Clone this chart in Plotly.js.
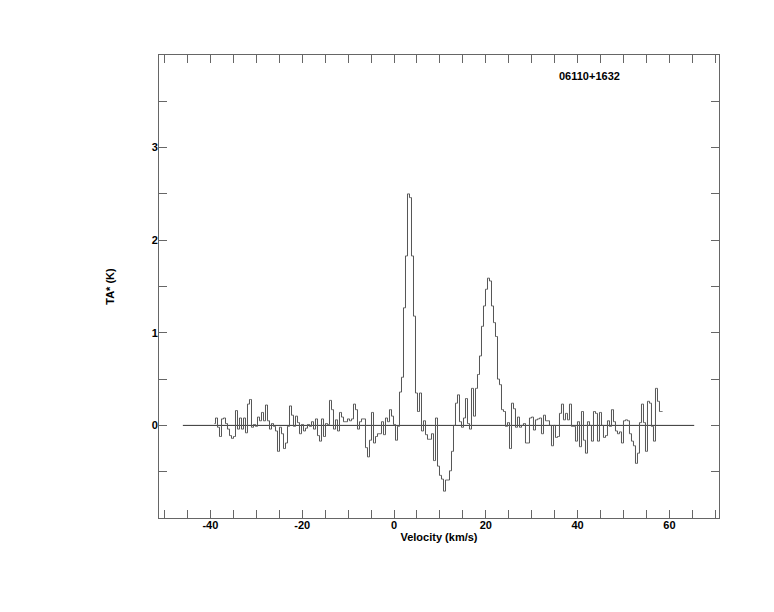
<!DOCTYPE html>
<html>
<head>
<meta charset="utf-8">
<script src="https://cdn.plot.ly/plotly-3.0.1.min.js"></script>
<style>html,body{margin:0;padding:0;background:#fff;}#chart{width:774px;height:612px;}</style>
</head>
<body>
<div id="chart"></div>
<script>
// Spectrum: antenna temperature TA* (K) per velocity channel
const velocityStart = -39.11;    // km/s, centre of first channel
const channelWidth = 0.4357;     // km/s
const taValues = [
 0.02, 0.08,-0.02,-0.12, 0.07, 0.08, 0.02,-0.04,-0.11,-0.14,
-0.12, 0.16,-0.04, 0.08,-0.04, 0.08,-0.08, 0.23, 0.28,-0.02,
 0.01,-0.01, 0.09, 0.05, 0.14, 0.05, 0.22, 0.05,-0.04, 0.02,
-0.01,-0.06,-0.28,-0.02,-0.09,-0.25,-0.19,-0.01, 0.21, 0.11,
-0.01, 0.10, 0.03,-0.09, 0.01,-0.06,-0.03, 0.01,-0.01, 0.04,
-0.04, 0.07,-0.11,-0.17, 0.07,-0.12, 0.02, 0.01, 0.27, 0.17,
-0.04, 0.06,-0.06, 0.14, 0.09, 0.04, 0.04, 0.07, 0.05, 0.07,
 0.23, 0.17,-0.04, 0.04, 0.07, 0.07,-0.24,-0.34,-0.16, 0.14,
-0.19,-0.12,-0.09,-0.09, 0.04,-0.10, 0.08, 0.04, 0.17, 0.10,
 0.01,-0.16,-0.01, 0.36, 0.52, 1.27, 1.83, 2.50, 2.46, 1.83,
 1.18, 0.35, 0.15, 0.35,-0.06, 0.05,-0.10,-0.15,-0.15,-0.09,
-0.38, 0.08,-0.44,-0.54,-0.58,-0.71,-0.59,-0.59,-0.49,-0.28,
 0.00, 0.24, 0.33, 0.04,-0.02, 0.08, 0.29, 0.02,-0.04, 0.40,
 0.10, 0.40, 0.55, 0.75, 1.07, 1.29, 1.47, 1.59, 1.56, 1.29,
 1.11, 0.96, 0.50, 0.44, 0.17, 0.15,-0.01, 0.03,-0.25, 0.24,
 0.18,-0.02, 0.09,-0.02, 0.00, 0.02,-0.19,-0.19, 0.08, 0.09,
-0.05, 0.06, 0.07, 0.08,-0.09, 0.11, 0.05, 0.05, 0.00,-0.22,
 0.00,-0.13,-0.12, 0.13, 0.23, 0.06, 0.13, 0.06, 0.23,-0.01,
-0.01,-0.17, 0.04,-0.23, 0.15,-0.16,-0.30, 0.04, 0.00,-0.17,
 0.15, 0.13,-0.17, 0.14, 0.00,-0.13,-0.11, 0.05,-0.01, 0.17,
 0.04,-0.06,-0.09,-0.07,-0.19, 0.05, 0.06, 0.05,-0.09,-0.17,
-0.22,-0.41,-0.30, 0.03, 0.23, 0.03,-0.28, 0.26, 0.24,-0.01,
-0.17, 0.40, 0.26, 0.15, 0.15
];
const baselineVelocity = [-46, 65.4];
const baselineLevel = [0, 0];
const xTickValues = [-40, -20, 0, 20, 40, 60];
const yTickValues = [0, 1, 2, 3];
const sourceName = "06110+1632";

const fontFamily = "Liberation Sans, Arial, Helvetica, sans-serif";
const tickFont = {family: fontFamily, size: 11, color: "#000", weight: "bold"};

const traces = [
  {
    type: "scatter", mode: "lines",
    x: baselineVelocity, y: baselineLevel,
    line: {color: "#333", width: 1},
    hoverinfo: "skip", showlegend: false
  },
  {
    type: "scatter", mode: "lines",
    x0: velocityStart, dx: channelWidth, y: taValues,
    line: {color: "#555", width: 1, shape: "hvh"},
    showlegend: false
  }
];

const axisCommon = {
  showgrid: false, zeroline: false,
  showline: true, linecolor: "#666", linewidth: 1, mirror: "allticks",
  ticks: "inside", ticklen: 8, tickcolor: "#666", tickwidth: 1,
  tickfont: tickFont
};

const layout = {
  width: 774, height: 612,
  margin: {l: 159, r: 55, t: 55, b: 94},
  paper_bgcolor: "#fff", plot_bgcolor: "#fff",
  showlegend: false,
  xaxis: Object.assign({}, axisCommon, {
    range: [-51.2, 70.8],
    tickmode: "array", tickvals: xTickValues, ticktext: xTickValues.map(String),
    minor: {dtick: 5, tick0: 0, ticks: "inside", ticklen: 8, tickcolor: "#666", tickwidth: 1},
    ticklabelstandoff: -3,
    title: {text: "Velocity (km/s)", font: tickFont, standoff: 3}
  }),
  yaxis: Object.assign({}, axisCommon, {
    range: [-1, 4],
    tickmode: "array", tickvals: yTickValues, ticktext: yTickValues.map(String),
    minor: {dtick: 0.5, tick0: 0, ticks: "inside", ticklen: 8, tickcolor: "#666", tickwidth: 1},
    ticklabelstandoff: -2,
    title: {text: "TA* (K)", font: tickFont, standoff: 34}
  }),
  annotations: [{
    text: sourceName, xref: "paper", yref: "paper",
    x: 0.768, y: 0.955, showarrow: false,
    font: tickFont, xanchor: "center", yanchor: "middle"
  }]
};

Plotly.newPlot("chart", traces, layout, {displayModeBar: false, staticPlot: true});
</script>
</body>
</html>
